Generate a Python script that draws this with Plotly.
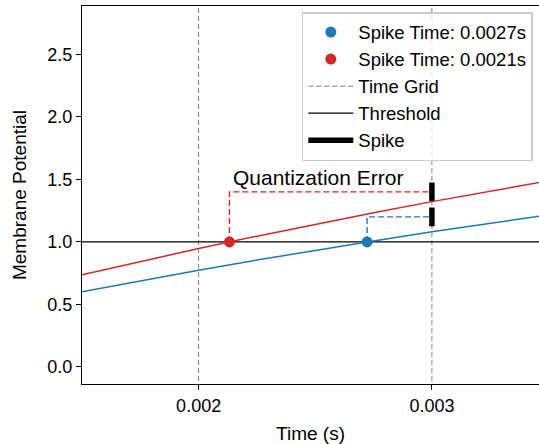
import plotly.graph_objects as go

# ---- data ----
t_samples = [0.0015, 0.00175, 0.002, 0.00225, 0.0025, 0.00275, 0.003, 0.00325, 0.0035]
v_blue = [0.602, 0.690, 0.774, 0.855, 0.933, 1.008, 1.081, 1.150, 1.217]
v_red = [0.737, 0.844, 0.947, 1.046, 1.142, 1.234, 1.322, 1.407, 1.489]

spike_blue_t = 0.002722
spike_red_t = 0.002132
threshold = 1.0
quantized_t = 0.003
marker_level_blue = 1.2
marker_level_red = 1.4
spike_half = 0.075
grid_times = [0.002, 0.003]

x_range = [0.0015, 0.003459]
y_range = [-0.136, 2.886]
y_ticks = [0.0, 0.5, 1.0, 1.5, 2.0, 2.5]
x_ticks = [0.002, 0.003]
x_ticklabels = ["0.002", "0.003"]

BLUE = "#1f77b4"
RED = "#d62728"
FONT = "Liberation Sans, Arial, sans-serif"

fig = go.Figure()

# time grid
gx, gy = [], []
for g in grid_times:
    gx += [g, g, None]
    gy += [y_range[0] - 1, y_range[1] + 1, None]
fig.add_trace(go.Scatter(x=gx, y=gy, mode="lines", name="Time Grid",
                         line=dict(color="gray", width=1, dash="5px,3px"),
                         legendgroup="g3", legendrank=3))

# threshold
fig.add_trace(go.Scatter(x=[x_range[0] - 0.001, x_range[1] + 0.001], y=[threshold, threshold],
                         mode="lines", name="Threshold", line=dict(color="black", width=1.3),
                         legendgroup="g4", legendrank=4))

# spikes
sx = [quantized_t, quantized_t, None, quantized_t, quantized_t]
sy = [marker_level_red - spike_half, marker_level_red + spike_half, None,
      marker_level_blue - spike_half, marker_level_blue + spike_half]
fig.add_trace(go.Scatter(x=sx, y=sy, mode="lines", name="Spike",
                         line=dict(color="black", width=5.5),
                         legendgroup="g5", legendrank=5))

# membrane curves
fig.add_trace(go.Scatter(x=t_samples, y=v_blue, mode="lines", line=dict(color=BLUE, width=1.5),
                         showlegend=False, hoverinfo="skip"))
fig.add_trace(go.Scatter(x=t_samples, y=v_red, mode="lines", line=dict(color=RED, width=1.5),
                         showlegend=False, hoverinfo="skip"))

# quantization dashed connectors
fig.add_trace(go.Scatter(x=[spike_red_t, spike_red_t, quantized_t],
                         y=[threshold, marker_level_red, marker_level_red],
                         mode="lines", line=dict(color=RED, width=1.4, dash="6px,3px"),
                         showlegend=False))
fig.add_trace(go.Scatter(x=[spike_blue_t, spike_blue_t, quantized_t],
                         y=[threshold, marker_level_blue, marker_level_blue],
                         mode="lines", line=dict(color=BLUE, width=1.4, dash="6px,3px"),
                         showlegend=False))

# spike points
fig.add_trace(go.Scatter(x=[spike_blue_t], y=[threshold], mode="markers",
                         marker=dict(color=BLUE, size=11), name="Spike Time: 0.0027s",
                         legendgroup="g1", legendrank=1))
fig.add_trace(go.Scatter(x=[spike_red_t], y=[threshold], mode="markers",
                         marker=dict(color=RED, size=11), name="Spike Time: 0.0021s",
                         legendgroup="g2", legendrank=2))

fig.add_annotation(x=0.00214, y=1.405, text="Quantization Error", showarrow=False,
                   xanchor="left", yanchor="bottom", font=dict(size=21, color="black", family=FONT))

fig.update_layout(
    width=539, height=444,
    margin=dict(l=82, r=0, t=6, b=60),
    plot_bgcolor="white", paper_bgcolor="white",
    font=dict(family=FONT, size=18, color="black"),
    showlegend=True,
    legend=dict(x=0.481, y=0.984, xanchor="left", yanchor="top",
                bgcolor="rgba(255,255,255,0.8)", bordercolor="#cccccc", borderwidth=1.5,
                font=dict(size=18.5), tracegroupgap=2.5, traceorder="normal", itemwidth=45),
)
fig.update_xaxes(range=x_range, tickvals=x_ticks, ticktext=x_ticklabels,
                 showgrid=False, zeroline=False, showline=True, linecolor="black", linewidth=1.3,
                 mirror=True, ticks="outside", ticklen=5, tickwidth=1.2, tickcolor="black",
                 title=dict(text="Time (s)", font=dict(size=19), standoff=11))
fig.update_yaxes(range=y_range, tickvals=y_ticks, tickformat=".1f",
                 showgrid=False, zeroline=False, showline=True, linecolor="black", linewidth=1.3,
                 ticks="outside", ticklen=5, tickwidth=1.2, tickcolor="black",
                 title=dict(text="Membrane Potential", font=dict(size=19), standoff=15))

fig.write_html("out.html")
